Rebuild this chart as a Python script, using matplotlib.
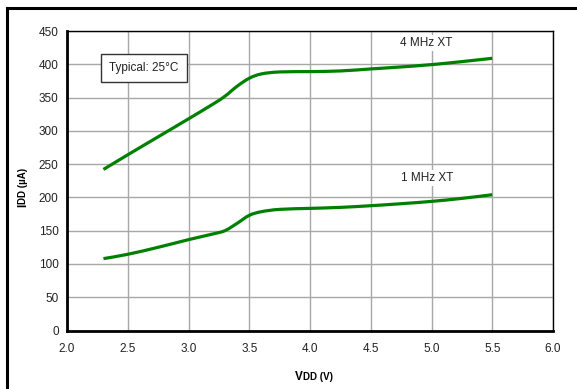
import matplotlib
matplotlib.use("Agg")
import matplotlib.pyplot as plt
from matplotlib.patches import Rectangle, PathPatch
from matplotlib.path import Path
import numpy as np

plt.rcParams['font.family'] = ['Liberation Sans', 'DejaVu Sans']

# data
vdd = [2.3, 2.5, 2.75, 3.0, 3.2, 3.3, 3.4, 3.5, 3.6, 3.75, 4.0, 4.25, 4.5, 4.75, 5.0, 5.25, 5.5]
idd_4mhz = [242, 264, 291, 318, 340, 352, 367, 379, 385.5, 388.5, 389, 390, 393, 396, 399.5, 404, 409]
idd_1mhz = [108, 114.5, 125, 136.5, 145, 150, 161, 173, 178.5, 182, 183.5, 185, 187.5, 190.5, 194, 198.5, 204]

xticks = [2.0, 2.5, 3.0, 3.5, 4.0, 4.5, 5.0, 5.5, 6.0]
yticks = [0, 50, 100, 150, 200, 250, 300, 350, 400, 450]
label_4 = "4 MHz XT"
label_1 = "1 MHz XT"
note = "Typical: 25°C"

W, H = 577, 389
fig = plt.figure(figsize=(W / 100, H / 100), dpi=100)
ax = fig.add_axes([67 / W, 1 - 330.5 / H, (553 - 67) / W, (330.5 - 31) / H])

# outer frame (clipped on the right and bottom)
fig.patches.append(Rectangle((7 / W, -0.05), 1.2, 1 - 7.5 / H + 0.05,
                             transform=fig.transFigure, fill=False,
                             edgecolor='black', linewidth=2.2, zorder=0))

ax.set_xlim(2.0, 6.0)
ax.set_ylim(0, 450)


def smooth_curve(ax, xs, ys, **kw):
    """Catmull-Rom spline through the data points, drawn as a Bezier path."""
    # work in display-normalised space so tangents are isotropic
    pts = ax.transData.transform(np.column_stack([xs, ys]))
    n = len(pts)
    verts = [pts[0]]
    codes = [Path.MOVETO]
    for i in range(n - 1):
        p0 = pts[i - 1] if i > 0 else pts[i]
        p1 = pts[i]
        p2 = pts[i + 1]
        p3 = pts[i + 2] if i + 2 < n else pts[i + 1]
        c1 = p1 + (p2 - p0) / 6.0
        c2 = p2 - (p3 - p1) / 6.0
        verts += [c1, c2, p2]
        codes += [Path.CURVE4] * 3
    verts = ax.transData.inverted().transform(np.array(verts))
    patch = PathPatch(Path(verts, codes), fill=False, transform=ax.transData, **kw)
    ax.add_patch(patch)


green = '#008000'
smooth_curve(ax, vdd, idd_4mhz, edgecolor=green, linewidth=2.3, capstyle='butt', zorder=3)
smooth_curve(ax, vdd, idd_1mhz, edgecolor=green, linewidth=2.3, capstyle='butt', zorder=3)

ax.set_xticks(xticks)
ax.set_xticklabels([f"{t:.1f}" for t in xticks])
ax.set_yticks(yticks)
ax.set_yticklabels([str(t) for t in yticks])
ax.tick_params(length=0, labelsize=8.5, pad=6, colors='#222222')
ax.tick_params(axis='x', pad=9)
ax.grid(True, color='#a8a8a8', linewidth=1.0)
ax.set_axisbelow(True)

for side in ['left', 'bottom']:
    ax.spines[side].set_linewidth(2.0)
for side in ['top', 'right']:
    ax.spines[side].set_linewidth(1.0)
for s in ax.spines.values():
    s.set_color('black')

# curve labels
ax.text(4.0 + (427 - 310.5) / 121.5, 450 - (43 - 31) / 0.6655, label_4, fontsize=8.5,
        ha='center', va='center', color='#222222',
        bbox=dict(facecolor='white', edgecolor='none', pad=1.5))
ax.text(4.0 + (428 - 310.5) / 121.5, 450 - (178 - 31) / 0.6655, label_1, fontsize=8.5,
        ha='center', va='center', color='#222222',
        bbox=dict(facecolor='white', edgecolor='none', pad=1.5))

# note box
ax.text(2.0 + (144 - 67) / 121.5, 450 - (68 - 31) / 0.6655, note, fontsize=8.5,
        ha='center', va='center', color='#222222',
        bbox=dict(facecolor='white', edgecolor='#333333', linewidth=1.0,
                  boxstyle='square,pad=0.7'))

# axis labels: big letter + small-caps "DD ..."
fig.canvas.draw()
renderer = fig.canvas.get_renderer()

x0, base_y = 295, 380
tx = fig.text(x0 / W, 1 - base_y / H, "V", fontsize=8.5, fontweight='bold',
              ha='left', va='baseline')
wv = tx.get_window_extent(renderer).width
fig.text((x0 + wv) / W, 1 - base_y / H, "DD (V)", fontsize=7, fontweight='bold',
         ha='left', va='baseline')

base_x, y0 = 26, 207
ty = fig.text(base_x / W, 1 - y0 / H, "I", fontsize=8.5, fontweight='bold',
              rotation=90, rotation_mode='anchor', ha='left', va='baseline')
hi = ty.get_window_extent(renderer).height
fig.text(base_x / W, 1 - (y0 - hi) / H, "DD (µA)", fontsize=7, fontweight='bold',
         rotation=90, rotation_mode='anchor', ha='left', va='baseline')

fig.savefig("out.png", dpi=100)
